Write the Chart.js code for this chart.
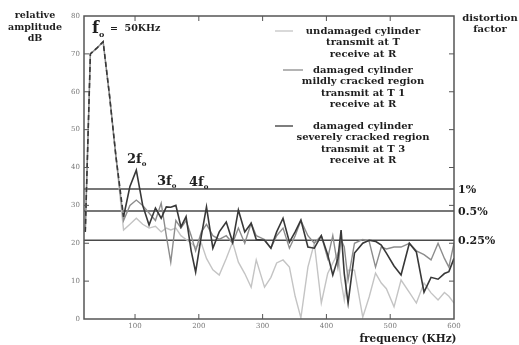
<!DOCTYPE html>
<html>
<head>
<meta charset="utf-8">
<script src="https://cdn.jsdelivr.net/npm/chart.js@4/dist/chart.umd.min.js"></script>
<style>
  html, body { margin: 0; padding: 0; background: #fff; }
  #wrap { width: 519px; height: 345px; }
</style>
</head>
<body>
<div id="wrap"><canvas id="myChart" width="519" height="345"></canvas></div>
<script>
// frequency (kHz), shared by the three spectra
const freqs = [22, 30, 40, 50, 60, 70, 82, 92, 102, 112, 122, 132, 141, 149, 156, 164, 172, 180, 188, 195,
  204, 212, 222, 232, 243, 253, 262, 272, 282, 290, 303, 313, 322, 332, 342, 351, 360, 371, 381, 392,
  402, 410, 418, 423, 428, 434, 444, 457, 467, 477, 486, 494, 506, 517, 530, 541, 553, 564, 575, 585, 592, 600];

// relative amplitude (dB)
const severe = [23, 70, 71.5, 73.2, 59, 43, 27, 35, 39.3, 30, 24.8, 29.3, 26.6, 29.6, 29.5, 30, 24.3, 27, 18, 12.4,
  22, 29.6, 18.7, 23, 25.6, 20.3, 28.8, 23, 25.3, 21, 20.8, 18.7, 23, 26.6, 20.3, 23, 26.1, 19, 18.7, 22,
  17, 11.6, 16, 23.5, 12, 4.2, 17.4, 20, 20.8, 20.5, 19.5, 17.4, 14, 11.6, 20, 17.7, 7.1, 11, 10.5, 12, 12.5, 16];

const mild = [23, 70, 71.5, 73.2, 59, 43, 26, 30, 31.4, 30, 28, 26, 30.6, 22, 15, 26, 24, 26, 22, 18,
  23, 25, 22, 21, 22, 20, 24, 20, 25.3, 22, 21, 18.7, 22, 24, 18.7, 22, 26, 22, 20, 22,
  16, 22, 13.7, 21, 19, 10.3, 20, 21, 20.5, 13.7, 19, 18.5, 19, 19, 20, 18, 17, 15.6, 20, 16, 13.7, 20];

const undamaged = [23, 70, 71.5, 73.2, 59, 43, 23.5, 25, 26.6, 25, 24, 24.5, 23, 24, 23.5, 24, 22, 21, 20, 19,
  20, 16, 13, 11.6, 16, 20.3, 15, 12, 8.4, 15.6, 8.4, 11, 14.8, 15.6, 13.7, 6, 0.3, 13.7, 20, 4.2,
  12, 14.8, 17.4, 10, 5, 12.9, 12.9, 0.5, 5.8, 12.1, 9.5, 8, 3.2, 10.3, 7, 4.2, 9.5, 6.9, 5, 7, 6, 4.2];

// distortion factor levels (dB) and their labels
const thresholds = [34.3, 28.5, 20.8];
const thresholdLabels = ["1%", "0.5%", "0.25%"];

const xTicks = [100, 200, 300, 400, 500, 600];
const yTicks = [0, 10, 20, 30, 40, 50, 60, 70, 80];

const legendLines = [
  ["undamaged cylinder", "transmit at T", "receive at R"],
  ["damaged cylinder", "mildly cracked region", "transmit at T 1", "receive at R"],
  ["damaged cylinder", "severely cracked region", "transmit at T 3", "receive at R"]
];

const DARK = "#383838";
const MID = "#8c8c8c";
const LIGHT = "#c4c4c4";

function toPoints(vals) {
  return freqs.map((f, i) => ({ x: f, y: vals[i] }));
}

const serif = '"DejaVu Serif", serif';

const decor = {
  id: "decor",
  afterDraw(chart) {
    const ctx = chart.ctx;
    const a = chart.chartArea;
    const xs = chart.scales.x;
    const ys = chart.scales.y;
    ctx.save();

    // frame + inward ticks
    ctx.strokeStyle = "#555";
    ctx.lineWidth = 1.5;
    ctx.strokeRect(a.left, a.top, a.right - a.left, a.bottom - a.top);
    ctx.lineWidth = 1;
    ctx.beginPath();
    yTicks.slice(1, -1).forEach(v => {
      const py = ys.getPixelForValue(v);
      ctx.moveTo(a.left, py); ctx.lineTo(a.left + 5, py);
      ctx.moveTo(a.right, py); ctx.lineTo(a.right - 5, py);
    });
    xTicks.slice(0, -1).forEach(v => {
      const px = xs.getPixelForValue(v);
      ctx.moveTo(px, a.top); ctx.lineTo(px, a.top + 5);
      ctx.moveTo(px, a.bottom); ctx.lineTo(px, a.bottom - 5);
    });
    ctx.stroke();

    ctx.fillStyle = "#1e1e1e";
    ctx.textBaseline = "middle";

    // axis titles
    ctx.font = "bold 9.5px " + serif;
    ctx.textAlign = "center";
    ["relative", "amplitude", "dB"].forEach((t, i) => ctx.fillText(t, 35, 16 + i * 11.5));
    ctx.font = "bold 10px " + serif;
    ["distortion", "factor"].forEach((t, i) => ctx.fillText(t, 490, 18 + i * 11));
    ctx.font = "bold 10.5px " + serif;
    ctx.fillText("frequency (KHz)", 408, 339);

    // harmonic labels
    function harm(prefix, x, y, size) {
      ctx.textAlign = "left";
      ctx.font = "bold " + size + "px " + serif;
      ctx.fillText(prefix + "f", x, y);
      const w = ctx.measureText(prefix + "f").width;
      ctx.font = "bold " + Math.round(size * 0.5) + "px " + serif;
      ctx.fillText("o", x + w, y + size * 0.35);
    }
    harm("", 92, 29, 16);
    ctx.font = "bold 9.5px " + serif;
    ctx.textAlign = "left";
    ctx.fillText("=  50KHz", 110, 29);
    harm("2", 127, 160, 13);
    harm("3", 157, 182, 13);
    harm("4", 189, 183, 13);

    // distortion labels
    ctx.font = "bold 11px " + serif;
    thresholds.forEach((v, i) => {
      ctx.fillText(thresholdLabels[i], a.right + 4, ys.getPixelForValue(v) + 1);
    });

    // legend
    const colors = [LIGHT, MID, DARK];
    const starts = [31, 70, 126];
    const segX = [[275, 293], [283, 303], [275, 293]];
    ctx.font = "bold 10px " + serif;
    ctx.textAlign = "center";
    legendLines.forEach((lines, k) => {
      ctx.strokeStyle = colors[k];
      ctx.lineWidth = 1.3;
      ctx.beginPath();
      ctx.moveTo(segX[k][0], starts[k]);
      ctx.lineTo(segX[k][1], starts[k]);
      ctx.stroke();
      lines.forEach((t, i) => {
        const yy = starts[k] + i * 11.6;
        ctx.fillText(t, 363, yy);
      });
    });
    ctx.restore();
  }
};

const datasets = [
  {
    label: "severely cracked",
    data: toPoints(severe),
    borderColor: DARK,
    borderWidth: 1.6,
    segment: {
      borderDash: c => (c.p0.parsed.x < 80 ? [5, 3] : undefined)
    }
  },
  { label: "mildly cracked", data: toPoints(mild), borderColor: MID, borderWidth: 1.4 },
  { label: "undamaged", data: toPoints(undamaged), borderColor: LIGHT, borderWidth: 1.4 }
];

thresholds.forEach(v => {
  datasets.push({
    label: "level " + v,
    data: [{ x: 20, y: v }, { x: 600, y: v }],
    borderColor: "#4a4a4a",
    borderWidth: 1.5
  });
});

const ctx = document.getElementById("myChart").getContext("2d");
new Chart(ctx, {
  type: "line",
  data: { datasets: datasets },
  options: {
    responsive: false,
    animation: false,
    layout: { padding: { top: 16, right: 65, left: 0, bottom: 0 } },
    elements: { point: { radius: 0 }, line: { tension: 0, fill: false } },
    plugins: { legend: { display: false }, tooltip: { enabled: false } },
    scales: {
      x: {
        type: "linear",
        min: 20,
        max: 600,
        grid: { display: false, drawTicks: false, tickLength: 0 },
        border: { display: false },
        afterBuildTicks: s => { s.ticks = xTicks.map(v => ({ value: v })); },
        afterFit: s => { s.height = 26; },
        ticks: { color: "#777", font: { size: 7, family: serif }, padding: 3, maxRotation: 0 }
      },
      y: {
        min: 0,
        max: 80,
        grid: { display: false, drawTicks: false, tickLength: 0 },
        border: { display: false },
        afterBuildTicks: s => { s.ticks = yTicks.map(v => ({ value: v })); },
        afterFit: s => { s.width = 84; },
        ticks: { color: "#777", font: { size: 7, family: serif }, padding: 4 }
      }
    }
  },
  plugins: [decor]
});
</script>
</body>
</html>
